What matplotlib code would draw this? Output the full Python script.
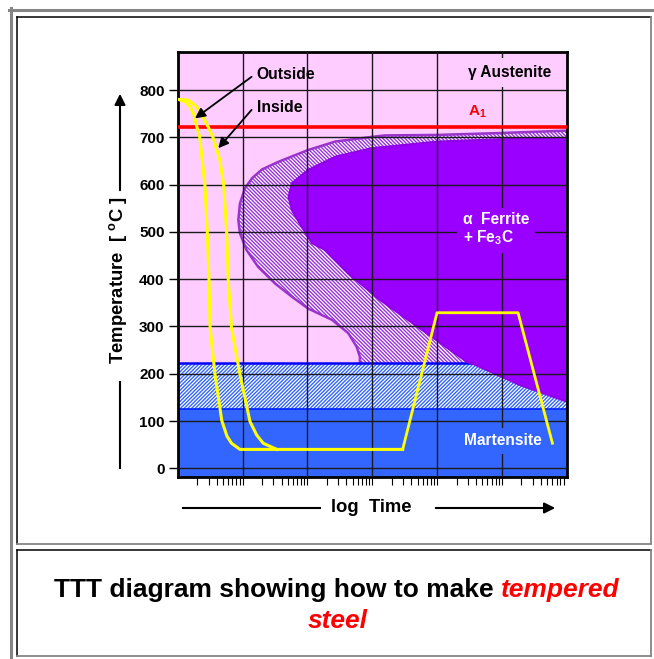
import numpy as np
import matplotlib
matplotlib.use('Agg')
from matplotlib import pyplot as plt
from matplotlib.patches import FancyArrowPatch

plt.rcParams['font.family'] = ['Liberation Sans', 'DejaVu Sans']
plt.rcParams['font.weight'] = 'bold'
plt.rcParams['mathtext.fontset'] = 'custom'
plt.rcParams['mathtext.rm'] = 'Liberation Sans:bold'
plt.rcParams['mathtext.bf'] = 'Liberation Sans:bold'
plt.rcParams['mathtext.default'] = 'rm'
plt.rcParams['hatch.linewidth'] = 1.0

# ---- data (log10 time, temperature in degC) ----
a1_temp = 721
ms_temp = 222
m_band_low = 125

# transformation start curve (pink / hatched boundary)
start_logt = [6.0, 4.97, 4.0, 3.2, 3.0, 2.43, 2.01, 1.55, 1.3, 1.15, 1.04, 0.96,
              0.935, 0.96, 1.06, 1.24, 1.5, 1.76, 2.01, 2.38, 2.63, 2.76, 2.81,
              2.81]
start_temp = [714, 709, 705, 704, 701, 691, 673, 648, 632, 614, 593, 560,
              525, 497, 462, 426, 391, 363, 338, 314, 286, 257, 236, 222]

# transformation finish curve (hatched / dark purple boundary)
finish_logt = [6.0, 4.97, 4.0, 2.99, 2.43, 2.01, 1.76, 1.71, 1.76, 1.91, 2.07,
               2.27, 2.63, 3.12, 4.46, 4.55, 5.28, 6.0]
finish_temp = [699, 696, 691, 677, 659, 631, 603, 574, 546, 511, 476,
               462, 412, 356, 225, 221, 176, 141]

# cooling paths
outside_logt = [0.01, 0.11, 0.19, 0.25, 0.29, 0.34, 0.42, 0.457, 0.483, 0.50,
                0.575, 0.68, 0.76, 0.83, 0.96, 3.47]
outside_temp = [780, 776, 765, 748, 725, 700, 599, 497, 398, 297, 199, 101, 68,
                53, 40, 40]

inside_logt = [0.01, 0.16, 0.29, 0.39, 0.47, 0.545, 0.65, 0.71, 0.756, 0.78,
               0.83, 0.96, 1.115, 1.22, 1.32, 1.53]
inside_temp = [780, 779, 765, 743, 722, 700, 652, 599, 498, 398, 297, 199, 99,
               70, 53, 40]

# tempering path
temper_logt = [3.47, 4.0, 5.25, 5.78]
temper_temp = [40, 329, 329, 53]

yticks = [0, 100, 200, 300, 400, 500, 600, 700, 800]

W, H = 654, 659
fig = plt.figure(figsize=(W / 100, H / 100), dpi=100)

# ---- page frame (pixel coordinates) ----
frame = fig.add_axes([0, 0, 1, 1], zorder=-5)
frame.set_xlim(0, W)
frame.set_ylim(H, 0)
frame.axis('off')
gray = '#858585'
frame.plot([10.5, 10.5], [8, H], color=gray, lw=2.2)
frame.plot([9, W], [9.5, 9.5], color=gray, lw=2.2)
for top, bot in [(17, 544), (550, 656)]:
    frame.plot([17, 651], [top, top], color='black', lw=1.1)
    frame.plot([17, 17], [top, bot], color='black', lw=1.1)
    frame.plot([17, 651], [bot, bot], color=gray, lw=1.3)
    frame.plot([651, 651], [top, bot], color=gray, lw=1.3)

# y label with arrows
frame.text(118, 280, 'Temperature  [ $^{o}$C ]', rotation=90, ha='center',
           va='center', fontsize=13.3, fontweight='bold')
frame.plot([120, 120], [468, 382], color='black', lw=1.5)
frame.add_patch(FancyArrowPatch((120, 193), (120, 91), arrowstyle='-|>',
                                mutation_scale=16, color='black', lw=1.5))
# x label with arrows
frame.text(371, 507, 'log  Time', ha='center', va='center', fontsize=13.3,
           fontweight='bold')
frame.plot([183, 320], [508, 508], color='black', lw=1.5)
frame.add_patch(FancyArrowPatch((433, 508), (558, 508), arrowstyle='-|>',
                                mutation_scale=16, color='black', lw=1.5))

# ---- TTT axes ----
ax = fig.add_axes([177.7 / W, 1 - 477.3 / H, 389 / W, 425.6 / H])
ax.set_facecolor('#FFCCFF')
ax.set_xscale('log')
ax.set_xlim(1, 1e6)
ax.set_ylim(-19, 881)

t_full = np.array([1, 1e6])
ax.fill_between(t_full, -19, m_band_low, color='#3366FF', lw=0, zorder=1.0)
ax.fill_between(t_full, m_band_low, ms_temp, facecolor='white',
                edgecolor='#3366FF', hatch='/' * 9, lw=0, zorder=1.0)
ax.plot(t_full, [m_band_low] * 2, color='#0022FF', lw=1.2, zorder=1.05)

st = 10 ** np.array(start_logt)
ax.fill(np.append(st, 1e6), np.append(start_temp, ms_temp), facecolor='white',
        edgecolor='#9933DD', hatch='\\' * 9, lw=0, zorder=1.1)
ax.plot(st, start_temp, color='#9933CC', lw=1.8, zorder=1.2)
ax.plot(t_full, [ms_temp] * 2, color='#0000FF', lw=1.8, zorder=1.3)

ft = 10 ** np.array(finish_logt)
ax.fill(ft, finish_temp, facecolor='#9900FF', edgecolor='none', zorder=1.4)
ax.plot(ft, finish_temp, color='#8F00E6', lw=1.4, zorder=1.45)

ax.axhline(a1_temp, color='#FF0000', lw=2.6, zorder=2.6)

ax.set_axisbelow(False)
ax.set_yticks(yticks)
ax.set_xticks([1e1, 1e2, 1e3, 1e4, 1e5])
ax.xaxis.set_major_formatter(plt.NullFormatter())
ax.xaxis.set_minor_formatter(plt.NullFormatter())
ax.grid(True, which='major', color='#1a1a1a', lw=1.0)
ax.tick_params(axis='y', direction='out', length=6.5, width=1.0, labelsize=11,
               pad=3)
ax.tick_params(axis='x', which='both', direction='out', length=5.5, width=0.8)
for lab in ax.get_yticklabels():
    lab.set_fontweight('bold')
for sp in ax.spines.values():
    sp.set_linewidth(2.0)

ax.plot(10 ** np.array(outside_logt), outside_temp, color='#FFFF00', lw=2.2,
        zorder=3)
ax.plot(10 ** np.array(inside_logt), inside_temp, color='#FFFF00', lw=2.2,
        zorder=3)
ax.plot(10 ** np.array(temper_logt), temper_temp, color='#FFFF00', lw=2.0,
        zorder=3)

# labels
arrow = dict(arrowstyle='-|>', color='black', lw=1.3, mutation_scale=15,
             shrinkA=0, shrinkB=0)
ax.annotate('', xy=(10 ** 0.267, 740), xytext=(10 ** 1.14, 828),
            arrowprops=arrow, zorder=4)
ax.annotate('', xy=(10 ** 0.626, 677), xytext=(10 ** 1.14, 758),
            arrowprops=arrow, zorder=4)
ax.text(10 ** 1.22, 832, 'Outside', ha='left', va='center', fontsize=11.3,
        zorder=4)
ax.text(10 ** 1.22, 764, 'Inside', ha='left', va='center', fontsize=11.3,
        zorder=4)
ax.text(10 ** 5.12, 837, '\u03b3 Austenite', ha='center', va='center',
        fontsize=11.2, zorder=4,
        bbox=dict(facecolor='#FFCCFF', edgecolor='none', pad=5))
ax.text(10 ** 4.48, 754, 'A$_1$', ha='left', va='center', fontsize=11,
        color='#FF0000', zorder=4)
ax.text(10 ** 4.40, 505, '\u03b1  Ferrite\n+ Fe$_3$C', ha='left', va='center',
        fontsize=11.2, color='white', zorder=4, linespacing=1.1,
        bbox=dict(facecolor='#9900FF', edgecolor='none', pad=4))
ax.text(10 ** 5.01, 58, 'Martensite', ha='center', va='center', fontsize=11.2,
        color='white', zorder=4,
        bbox=dict(facecolor='#3366FF', edgecolor='none', pad=4))

# ---- caption with mixed styles ----
fig.canvas.draw()
r = fig.canvas.get_renderer()
cap_size = 19
t1 = frame.text(0, 590, 'TTT diagram showing how to make ', ha='left',
                va='center', fontsize=cap_size, fontweight='bold')
t2 = frame.text(0, 590, 'tempered', ha='left', va='center', fontsize=cap_size,
                fontweight='bold', fontstyle='italic', color='#FF0000')
w1 = t1.get_window_extent(r).width
w2 = t2.get_window_extent(r).width
x0 = 337 - (w1 + w2) / 2
t1.set_x(x0)
t2.set_x(x0 + w1)
frame.text(338, 621, 'steel', ha='center', va='center', fontsize=cap_size,
           fontweight='bold', fontstyle='italic', color='#FF0000')

fig.savefig('out.png', dpi=100)
